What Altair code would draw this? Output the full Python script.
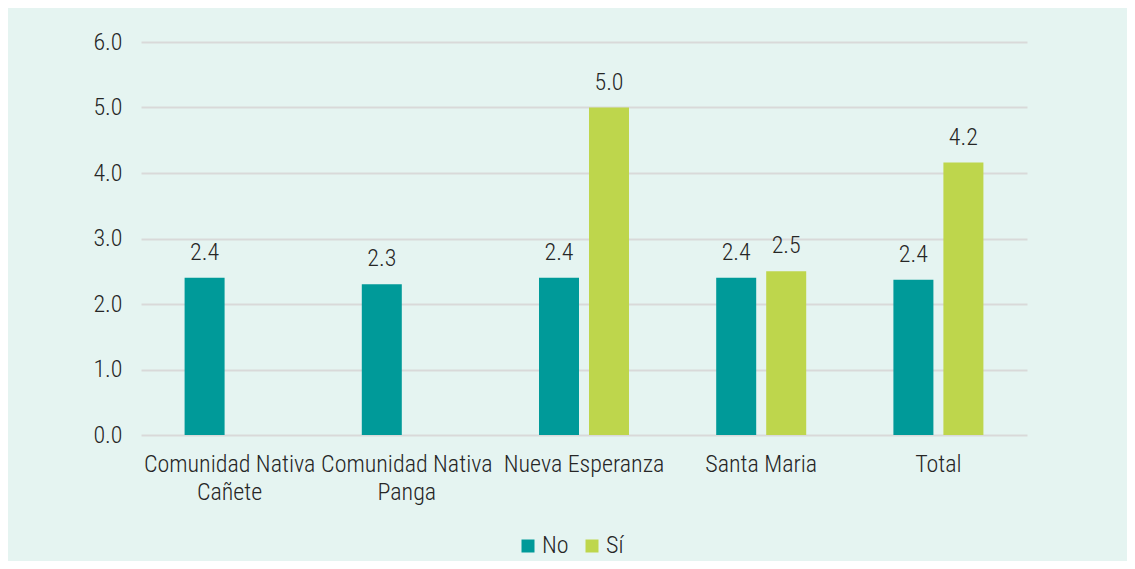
import altair as alt
import pandas as pd

categories = ["Comunidad Nativa|Cañete", "Comunidad Nativa|Panga", "Nueva Esperanza", "Santa Maria", "Total"]
no_values = [2.4, 2.3, 2.4, 2.4, 2.37]
si_values = [None, None, 5.0, 2.5, 4.16]
series = ["No", "Sí"]
colors = ["#009a99", "#bed64c"]

rows = []
for c, n, s in zip(categories, no_values, si_values):
    rows.append({"cat": c, "grupo": "No", "valor": n})
    rows.append({"cat": c, "grupo": "Sí", "valor": s})
df = pd.DataFrame(rows)

FONT = "Roboto Condensed, Liberation Sans Narrow, sans-serif"
W = 300
FS = 24
TXT = "#262626"

x = alt.X("cat:N", sort=categories, title=None,
          scale=alt.Scale(paddingInner=0, paddingOuter=0),
          axis=alt.Axis(labelExpr="split(datum.label, '|')", labelAngle=0,
                        domain=False, ticks=False, labelPadding=17, labelLimit=400,
                        labelFontSize=FS, labelLineHeight=28, labelColor=TXT,
                        labelFont=FONT, labelFontWeight=W, labelBaseline="top"))
xoff = alt.XOffset("grupo:N", scale=alt.Scale(domain=series, paddingInner=0.2, paddingOuter=0.872))
y = alt.Y("valor:Q", title=None,
          scale=alt.Scale(domain=[0, 6], nice=False),
          axis=alt.Axis(values=[0, 1, 2, 3, 4, 5, 6], format=".1f", domain=False, ticks=False,
                        labelPadding=19, labelFontSize=FS, labelColor=TXT, labelFont=FONT,
                        labelFontWeight=W, gridColor="#d9d9d9", gridWidth=2))

bars = alt.Chart(df).mark_bar().encode(
    x=x, xOffset=xoff, y=y,
    color=alt.Color("grupo:N", scale=alt.Scale(domain=series, range=colors), title=None,
                    legend=alt.Legend(orient="none", legendX=375, legendY=492, direction="horizontal",
                                      symbolType="square", symbolSize=169, symbolStrokeWidth=0,
                                      labelFontSize=FS, labelFont=FONT, labelFontWeight=W,
                                      labelColor=TXT, columnPadding=11, labelOffset=2, padding=0))
).transform_filter("isValid(datum.valor)")

labels = alt.Chart(df).mark_text(baseline="alphabetic", dy=-18, fontSize=FS, font=FONT,
                                 fontWeight=W, color=TXT).encode(
    x=x, xOffset=xoff, y=y,
    text=alt.Text("valor:Q", format=".1f")
).transform_filter("isValid(datum.valor)")

chart = alt.layer(bars, labels).properties(
    width=886, height=393,
    background="#e5f4f1",
    autosize=alt.AutoSizeParams(type="none"),
    padding={"left": 133, "top": 34, "right": 100, "bottom": 126},
).configure_view(stroke=None)

chart.save("out.html", embed_options={"renderer": "svg", "actions": False})
